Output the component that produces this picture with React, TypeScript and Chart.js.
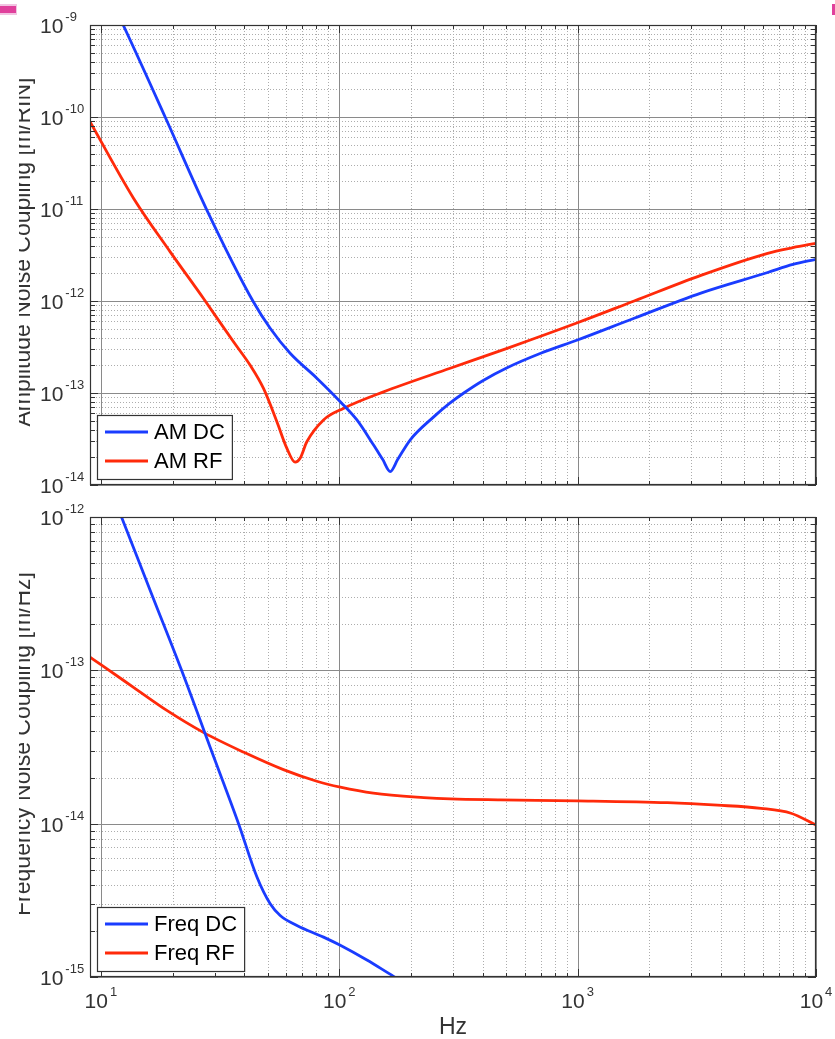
import React, { useEffect, useRef } from 'react';
import { Chart, registerables } from 'chart.js';

Chart.register(...registerables);

const FONT = '"Liberation Sans", Arial, Helvetica, sans-serif';
const BLUE = '#1a3cff';
const RED = '#ff2a0a';

// ---- Top panel: Amplitude Noise Coupling [m/RIN] ----
const amDcFreq = [10, 12.4, 18.6, 27.8, 43.6, 51.3, 62.2, 80.5, 101, 118.6, 139.3, 152, 163.7, 176, 198.6, 249, 290, 333, 400, 506, 700, 998, 1726, 3289, 6267, 8000, 10000];
const amDcVal = [3.2e-9, 1.0e-9, 1.0e-10, 9.8e-12, 9.8e-13, 5.05e-13, 2.7e-13, 1.45e-13, 8.05e-14, 5.1e-14, 2.72e-14, 1.9e-14, 1.4e-14, 1.9e-14, 3.1e-14, 5.5e-14, 7.7e-14, 1.0e-13, 1.36e-13, 1.88e-13, 2.7e-13, 3.77e-13, 6.5e-13, 1.22e-12, 2.04e-12, 2.5e-12, 2.84e-12];

const amRfFreq = [9, 13.7, 19.5, 26.9, 36, 42.3, 48.1, 54.7, 60.3, 65.3, 68.5, 73.1, 85.9, 104, 153.4, 292, 506, 998, 1726, 3289, 6267, 8000, 10000];
const amRfVal = [8.9e-11, 1.31e-11, 3.44e-12, 1.07e-12, 3.6e-13, 2.0e-13, 1.12e-13, 4.9e-14, 2.5e-14, 1.77e-14, 1.95e-14, 2.95e-14, 5.1e-14, 6.8e-14, 1.03e-13, 1.86e-13, 3.06e-13, 5.8e-13, 1.0e-12, 1.9e-12, 3.3e-12, 3.8e-12, 4.24e-12];

// ---- Bottom panel: Frequency Noise Coupling [m/Hz] ----
const fmDcFreq = [10, 12.2, 16.3, 21.8, 28.7, 37.8, 45.1, 51.3, 56.5, 66.4, 85.9, 101, 130.6, 169, 250];
const fmDcVal = [2.2e-12, 1.0e-12, 3.16e-13, 1.0e-13, 3.16e-14, 1.0e-14, 4.5e-15, 3.0e-15, 2.52e-15, 2.17e-15, 1.82e-15, 1.61e-15, 1.29e-15, 1.01e-15, 7.1e-16];

const fmRfFreq = [9, 10.07, 13.7, 18.9, 26.9, 39.6, 58.3, 80.5, 101, 139, 226, 292, 474, 998, 2382, 3864, 5875, 7853, 10000];
const fmRfVal = [1.22e-13, 1.08e-13, 7.75e-14, 5.48e-14, 3.94e-14, 2.93e-14, 2.25e-14, 1.89e-14, 1.73e-14, 1.58e-14, 1.48e-14, 1.45e-14, 1.43e-14, 1.41e-14, 1.37e-14, 1.32e-14, 1.26e-14, 1.17e-14, 9.8e-15];

// ---- Axes / tick labels ----
const xMin = 9;
const xMax = 10000;
const xTickExps = [1, 2, 3, 4];
const amYTickExps = [-14, -13, -12, -11, -10, -9];
const fmYTickExps = [-15, -14, -13, -12];
const amTitle = 'Amplitude Noise Coupling [m/RIN]';
const fmTitle = 'Frequency Noise Coupling [m/Hz]';
const xTitle = 'Hz';
const amLabels = ['AM DC', 'AM RF'];
const fmLabels = ['Freq DC', 'Freq RF'];

function pts(f: number[], v: number[]) {
  return f.map((x, i) => ({ x, y: v[i] }));
}

function logGrid(minExp: number, maxExp: number, lo: number, hi: number) {
  const major: number[] = [];
  const minor: number[] = [];
  for (let e = minExp; e <= maxExp; e++) {
    for (let m = 1; m <= 9; m++) {
      const v = m * Math.pow(10, e);
      if (v < lo * 0.9999 || v > hi * 1.0001) continue;
      if (m === 1) major.push(v);
      else minor.push(v);
    }
  }
  return { major, minor };
}

type PanelSpec = {
  yExps: number[];
  title: string;
  showX: boolean;
};

function drawSupLabel(ctx: CanvasRenderingContext2D, base: string, exp: string, x: number, baseY: number, align: 'left' | 'center') {
  ctx.font = `21px ${FONT}`;
  const wb = ctx.measureText(base).width;
  ctx.font = `13px ${FONT}`;
  const we = ctx.measureText(exp).width;
  const gap = 2;
  const total = wb + gap + we;
  const x0 = align === 'left' ? x : x - total / 2;
  ctx.textAlign = 'left';
  ctx.textBaseline = 'alphabetic';
  ctx.font = `21px ${FONT}`;
  ctx.fillText(base, x0, baseY);
  ctx.font = `13px ${FONT}`;
  ctx.fillText(exp, x0 + wb + gap, baseY - 12);
}

function makePanelPlugin(p: PanelSpec) {
  return {
    id: 'panelDecor',
    beforeDatasetsDraw(chart: any) {
      const { ctx, chartArea: ca, scales } = chart;
      const xs = scales.x;
      const ys = scales.y;
      const yMinE = p.yExps[0];
      const yMaxE = p.yExps[p.yExps.length - 1];
      const gx = logGrid(0, 4, xMin, xMax);
      const gy = logGrid(yMinE, yMaxE, Math.pow(10, yMinE), Math.pow(10, yMaxE));
      ctx.save();
      ctx.lineWidth = 1;
      ctx.strokeStyle = '#adadad';
      ctx.setLineDash([1, 2]);
      ctx.beginPath();
      for (const v of gx.minor) {
        const px = Math.round(xs.getPixelForValue(v)) + 0.5;
        ctx.moveTo(px, ca.top);
        ctx.lineTo(px, ca.bottom);
      }
      for (const v of gy.minor) {
        const py = Math.round(ys.getPixelForValue(v)) + 0.5;
        ctx.moveTo(ca.left, py);
        ctx.lineTo(ca.right, py);
      }
      ctx.stroke();
      ctx.setLineDash([]);
      ctx.strokeStyle = '#8a8a8a';
      ctx.beginPath();
      for (const v of gx.major) {
        const px = Math.round(xs.getPixelForValue(v)) + 0.5;
        ctx.moveTo(px, ca.top);
        ctx.lineTo(px, ca.bottom);
      }
      for (const v of gy.major) {
        const py = Math.round(ys.getPixelForValue(v)) + 0.5;
        ctx.moveTo(ca.left, py);
        ctx.lineTo(ca.right, py);
      }
      ctx.stroke();
      ctx.restore();
    },
    afterDatasetsDraw(chart: any) {
      const { ctx, chartArea: ca, scales } = chart;
      const xs = scales.x;
      const ys = scales.y;
      const yMinE = p.yExps[0];
      const yMaxE = p.yExps[p.yExps.length - 1];
      const gx = logGrid(0, 4, xMin, xMax);
      const gy = logGrid(yMinE, yMaxE, Math.pow(10, yMinE), Math.pow(10, yMaxE));
      ctx.save();
      // ticks
      ctx.strokeStyle = '#333';
      ctx.lineWidth = 1;
      ctx.beginPath();
      const xt = (v: number, len: number) => {
        const px = Math.round(xs.getPixelForValue(v)) + 0.5;
        ctx.moveTo(px, ca.bottom);
        ctx.lineTo(px, ca.bottom - len);
        ctx.moveTo(px, ca.top);
        ctx.lineTo(px, ca.top + len);
      };
      const yt = (v: number, len: number) => {
        const py = Math.round(ys.getPixelForValue(v)) + 0.5;
        ctx.moveTo(ca.left, py);
        ctx.lineTo(ca.left + len, py);
        ctx.moveTo(ca.right, py);
        ctx.lineTo(ca.right - len, py);
      };
      gx.major.forEach((v) => xt(v, 8));
      gx.minor.forEach((v) => xt(v, 4));
      gy.major.forEach((v) => yt(v, 8));
      gy.minor.forEach((v) => yt(v, 5));
      ctx.stroke();
      // box
      ctx.strokeStyle = '#333';
      ctx.lineWidth = 1.2;
      ctx.strokeRect(ca.left + 0.5, ca.top + 0.5, ca.right - ca.left - 1, ca.bottom - ca.top - 1);

      // y tick labels
      ctx.fillStyle = '#333';
      for (const e of p.yExps) {
        const py = ys.getPixelForValue(Math.pow(10, e));
        drawSupLabel(ctx, '10', String(e), 40, py + 8, 'left');
      }
      // x tick labels
      if (p.showX) {
        for (const e of xTickExps) {
          const px = xs.getPixelForValue(Math.pow(10, e));
          drawSupLabel(ctx, '10', String(e), px, ca.bottom + 31, 'center');
        }
        ctx.font = `23px ${FONT}`;
        ctx.textAlign = 'center';
        ctx.textBaseline = 'alphabetic';
        ctx.fillText(xTitle, (ca.left + ca.right) / 2, ca.bottom + 57);
      }

      // y title (rotated, left part cropped as in the source figure)
      ctx.save();
      ctx.beginPath();
      ctx.rect(19, 0, 200, chart.height);
      ctx.clip();
      ctx.translate(30, (ca.top + ca.bottom) / 2 - 3);
      ctx.rotate(-Math.PI / 2);
      ctx.font = `23px ${FONT}`;
      ctx.textAlign = 'center';
      ctx.textBaseline = 'alphabetic';
      ctx.fillStyle = '#333';
      ctx.fillText(p.title, 0, 0);
      ctx.restore();

      // legend
      const ds = chart.data.datasets;
      ctx.font = `22px ${FONT}`;
      const tw = Math.max(...ds.map((d: any) => ctx.measureText(d.label).width));
      const lx = ca.left + 7;
      const ly = ca.bottom - 70;
      const lw = 57 + tw + 7;
      const lh = 64;
      ctx.fillStyle = '#fff';
      ctx.fillRect(lx, ly, lw, lh);
      ctx.strokeStyle = '#333';
      ctx.lineWidth = 1.2;
      ctx.strokeRect(lx + 0.5, ly + 0.5, lw, lh);
      const rows = [ca.bottom - 53, ca.bottom - 24];
      ds.forEach((d: any, i: number) => {
        const ry = rows[i];
        ctx.strokeStyle = d.borderColor;
        ctx.lineWidth = 2.8;
        ctx.beginPath();
        ctx.moveTo(lx + 8, ry);
        ctx.lineTo(lx + 51, ry);
        ctx.stroke();
        ctx.fillStyle = '#000';
        ctx.textAlign = 'left';
        ctx.textBaseline = 'middle';
        ctx.fillText(d.label, lx + 57, ry + 1);
      });
      ctx.restore();
    },
  };
}

function makeConfig(
  series: { label: string; f: number[]; v: number[]; color: string }[],
  spec: PanelSpec,
  padding: { left: number; top: number; right: number; bottom: number }
): any {
  const yMin = Math.pow(10, spec.yExps[0]);
  const yMax = Math.pow(10, spec.yExps[spec.yExps.length - 1]);
  return {
    type: 'line',
    data: {
      datasets: series.map((s) => ({
        label: s.label,
        data: pts(s.f, s.v),
        borderColor: s.color,
        backgroundColor: s.color,
        borderWidth: 2.8,
        pointRadius: 0,
        fill: false,
        cubicInterpolationMode: 'monotone',
      })),
    },
    options: {
      animation: false,
      responsive: false,
      maintainAspectRatio: false,
      events: [],
      layout: { padding },
      plugins: { legend: { display: false }, tooltip: { enabled: false }, title: { display: false } },
      scales: {
        x: {
          type: 'logarithmic',
          min: xMin,
          max: xMax,
          ticks: { display: false },
          grid: { display: false, drawTicks: false },
          border: { display: false },
          afterFit: (s: any) => { s.height = 0; },
        },
        y: {
          type: 'logarithmic',
          min: yMin,
          max: yMax,
          ticks: { display: false },
          grid: { display: false, drawTicks: false },
          border: { display: false },
          afterFit: (s: any) => { s.width = 0; },
        },
      },
    },
    plugins: [makePanelPlugin(spec)],
  };
}

export default function App() {
  const topRef = useRef<HTMLCanvasElement>(null);
  const botRef = useRef<HTMLCanvasElement>(null);

  useEffect(() => {
    const top = new Chart(
      topRef.current as HTMLCanvasElement,
      makeConfig(
        [
          { label: amLabels[0], f: amDcFreq, v: amDcVal, color: BLUE },
          { label: amLabels[1], f: amRfFreq, v: amRfVal, color: RED },
        ],
        { yExps: amYTickExps, title: amTitle, showX: false },
        { left: 90, top: 25, right: 19, bottom: 15 }
      )
    );
    const bot = new Chart(
      botRef.current as HTMLCanvasElement,
      makeConfig(
        [
          { label: fmLabels[0], f: fmDcFreq, v: fmDcVal, color: BLUE },
          { label: fmLabels[1], f: fmRfFreq, v: fmRfVal, color: RED },
        ],
        { yExps: fmYTickExps, title: fmTitle, showX: true },
        { left: 90, top: 17, right: 19, bottom: 62 }
      )
    );
    return () => {
      top.destroy();
      bot.destroy();
    };
  }, []);

  return (
    <div style={{ position: 'absolute', left: 0, top: 0, width: 835, height: 1039, overflow: 'hidden', background: '#fff' }}>
      <canvas ref={topRef} width={835} height={500} style={{ position: 'absolute', left: 0, top: 0, width: 835, height: 500 }} />
      <canvas ref={botRef} width={835} height={539} style={{ position: 'absolute', left: 0, top: 500, width: 835, height: 539 }} />
      <div style={{ position: 'absolute', left: 0, top: 4, width: 17, height: 11, background: '#f2c4e2' }} />
      <div style={{ position: 'absolute', left: 0, top: 6, width: 16, height: 7, background: '#e0409c' }} />
      <div style={{ position: 'absolute', left: 832, top: 4, width: 3, height: 11, background: '#e0409c' }} />
    </div>
  );
}
